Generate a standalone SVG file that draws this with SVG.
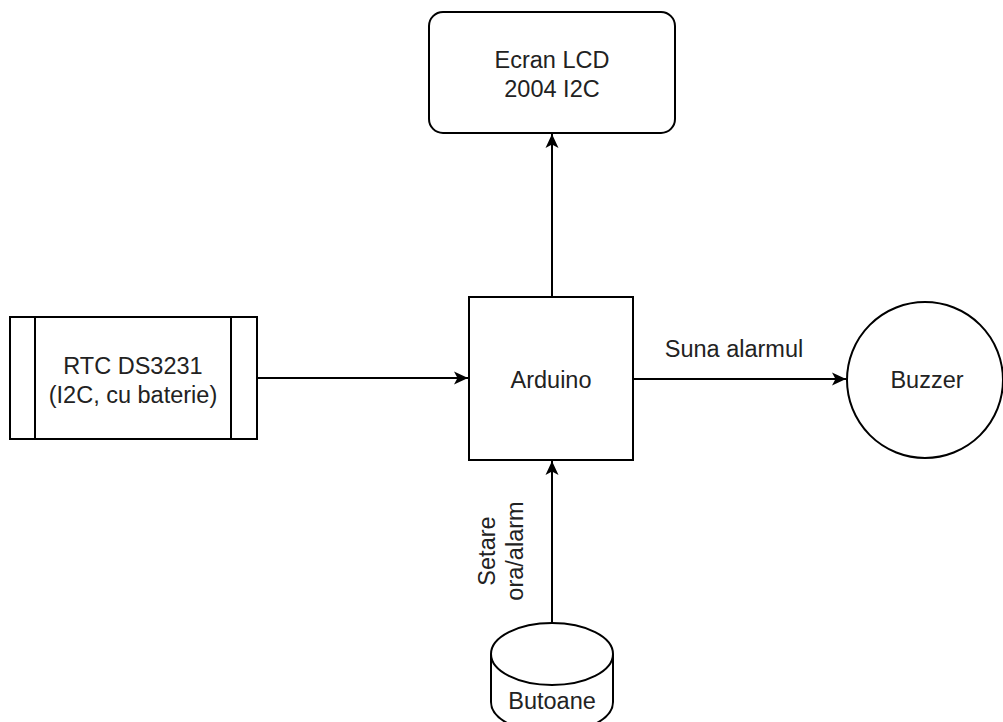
<svg xmlns="http://www.w3.org/2000/svg" width="1003" height="722" viewBox="0 0 1003 722">
<defs>
<style>
.shape{fill:#ffffff;stroke:#000000;stroke-width:2}
.edge{fill:none;stroke:#000000;stroke-width:2}
.lbl{font-family:"Liberation Sans",Arial,Helvetica,sans-serif;font-size:23.5px;fill:#222222;text-anchor:middle}
</style>
<marker id="arrow" markerUnits="userSpaceOnUse" markerWidth="16" markerHeight="14" refX="14" refY="7" orient="auto">
<path d="M0,0.5 L14,7 L0,13.5 L3.5,7 Z" fill="#000000"/>
</marker>
</defs>
<rect width="1003" height="722" fill="#ffffff"/>
<g id="connectors">
<line class="edge" x1="552" y1="297" x2="552" y2="134" marker-end="url(#arrow)"/>
<line class="edge" x1="257" y1="378" x2="468" y2="378" marker-end="url(#arrow)"/>
<line class="edge" x1="633" y1="379" x2="846" y2="379" marker-end="url(#arrow)"/>
<line class="edge" x1="552" y1="623" x2="552" y2="461" marker-end="url(#arrow)"/>
<text class="lbl" x="734" y="357">Suna alarmul</text>
<g transform="translate(509,551) rotate(-90)">
<text class="lbl" x="0" y="-14">Setare</text>
<text class="lbl" x="0" y="14">ora/alarm</text>
</g>
</g>
<g id="lcd">
<rect class="shape" x="429" y="12" width="246" height="121" rx="14" ry="14"/>
<text class="lbl" x="552" y="68">Ecran LCD</text>
<text class="lbl" x="552" y="97">2004 I2C</text>
</g>
<g id="rtc">
<rect class="shape" x="10" y="317" width="247" height="122"/>
<line class="edge" x1="35" y1="317" x2="35" y2="439"/>
<line class="edge" x1="231" y1="317" x2="231" y2="439"/>
<text class="lbl" x="133" y="374">RTC DS3231</text>
<text class="lbl" x="133" y="403">(I2C, cu baterie)</text>
</g>
<g id="arduino">
<rect class="shape" x="469" y="297" width="164" height="163"/>
<text class="lbl" x="551" y="388">Arduino</text>
</g>
<g id="buzzer">
<circle class="shape" cx="925" cy="380" r="78"/>
<text class="lbl" x="927" y="388">Buzzer</text>
</g>
<g id="butoane">
<path class="shape" d="M491,654 A61,31 0 0 1 613,654 L613,702 A61,31 0 0 1 491,702 Z"/>
<path class="edge" d="M491,654 A61,31 0 0 0 613,654"/>
<text class="lbl" x="552" y="709">Butoane</text>
</g>
</svg>
